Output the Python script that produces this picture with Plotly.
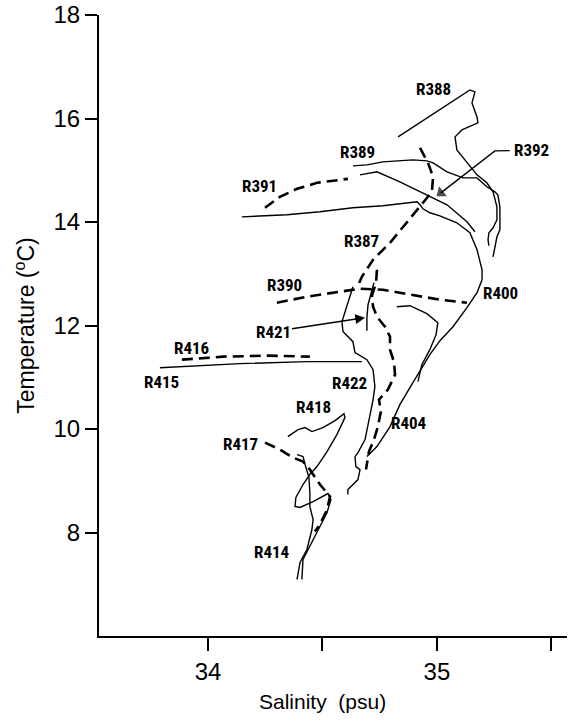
import plotly.graph_objects as go

# ---------------- data (salinity S in psu, temperature T in degC) ----------------
r388_s = [34.830, 35.144, 35.166, 35.153, 35.175, 35.179, 35.109, 35.079, 35.087, 35.131,
          35.175, 35.218, 35.245, 35.262, 35.262, 35.245, 35.227, 35.223, 35.227]
r388_t = [15.645, 16.552, 16.514, 16.301, 16.031, 15.915, 15.780, 15.645, 15.394, 15.143,
          14.911, 14.757, 14.583, 14.293, 14.042, 13.888, 13.792, 13.656, 13.541]

r389_s = [34.633, 34.694, 34.764, 34.895, 34.956, 34.983, 35.044, 35.114, 35.175, 35.218,
          35.253, 35.266, 35.275, 35.275, 35.262, 35.245]
r389_t = [15.085, 15.104, 15.162, 15.201, 15.181, 15.143, 14.969, 14.853, 14.853, 14.680,
          14.583, 14.525, 14.293, 13.849, 13.714, 13.328]

r392_s = [34.664, 34.738, 34.838, 34.956, 35.044, 35.131, 35.166]
r392_t = [14.911, 14.969, 14.776, 14.525, 14.332, 14.004, 13.811]

r391_s = [34.249, 34.314, 34.389, 34.476, 34.611]
r391_t = [14.274, 14.486, 14.641, 14.757, 14.834]

r400_s = [34.148, 34.345, 34.489, 34.633, 34.764, 34.913, 34.926, 34.939, 34.969, 35.013,
          35.087, 35.144, 35.175, 35.197, 35.197, 35.175, 35.131, 35.070, 35.013, 34.969,
          34.895, 34.838, 34.795, 34.738, 34.694]
r400_t = [14.100, 14.139, 14.197, 14.274, 14.313, 14.390, 14.332, 14.255, 14.178, 14.120,
          13.985, 13.792, 13.463, 13.077, 12.884, 12.633, 12.344, 11.977, 11.707, 11.436,
          10.896, 10.471, 10.046, 9.660, 9.467]

r404_s = [34.825, 34.882, 34.956, 35.004, 34.996, 34.969, 34.934, 34.917]
r404_t = [12.363, 12.382, 12.228, 12.054, 11.822, 11.533, 11.243, 10.915]

r387_s = [34.926, 34.961, 34.983, 34.978, 34.939, 34.869, 34.795, 34.721, 34.672, 34.651]
r387_t = [15.432, 15.143, 14.873, 14.583, 14.371, 13.985, 13.598, 13.270, 12.942, 12.730]

r390_s = [34.301, 34.432, 34.576, 34.664, 34.764, 34.882, 35.013, 35.131]
r390_t = [12.440, 12.556, 12.653, 12.710, 12.691, 12.595, 12.498, 12.440]

r421_s = [34.725, 34.712, 34.699, 34.694, 34.694]
r421_t = [12.826, 12.633, 12.402, 12.151, 11.900]

r422_s = [34.633, 34.607, 34.585, 34.590, 34.633, 34.642, 34.694, 34.721, 34.729, 34.721,
          34.707, 34.686, 34.655, 34.642, 34.646, 34.664, 34.655, 34.633, 34.611, 34.611]
r422_t = [12.749, 12.363, 12.073, 11.880, 11.687, 11.475, 11.340, 11.147, 10.819, 10.568,
          10.239, 9.795, 9.544, 9.467, 9.274, 9.216, 9.023, 8.927, 8.830, 8.734]

r422b_s = [34.738, 34.734, 34.716, 34.721, 34.738, 34.773, 34.795, 34.795, 34.812, 34.817,
           34.786, 34.747, 34.755, 34.742, 34.725, 34.703, 34.690]
r422b_t = [13.077, 12.826, 12.575, 12.363, 12.170, 11.977, 11.784, 11.533, 11.301, 11.050,
           10.761, 10.568, 10.336, 10.046, 9.795, 9.564, 9.216]

r416_s = [33.886, 34.066, 34.258, 34.445]
r416_t = [11.340, 11.398, 11.417, 11.398]

r415_s = [33.790, 34.140, 34.432, 34.672]
r415_t = [11.185, 11.263, 11.301, 11.301]

r418_s = [34.349, 34.393, 34.424, 34.454, 34.502, 34.555, 34.594, 34.598, 34.563, 34.520,
          34.476, 34.445, 34.415, 34.384, 34.380, 34.402, 34.459, 34.524, 34.537, 34.520,
          34.489, 34.445, 34.415, 34.410]
r418_t = [9.853, 9.988, 10.027, 9.950, 10.027, 10.162, 10.297, 10.220, 9.892, 9.564,
          9.274, 9.120, 8.927, 8.676, 8.502, 8.483, 8.598, 8.753, 8.637, 8.386,
          8.116, 7.730, 7.479, 7.093]

r417_s = [34.249, 34.314, 34.371, 34.415, 34.445, 34.489, 34.533, 34.520, 34.489, 34.467]
r417_t = [9.737, 9.602, 9.448, 9.371, 9.216, 8.927, 8.695, 8.444, 8.154, 8.019]

r414_s = [34.389, 34.415, 34.424, 34.441, 34.445, 34.445, 34.459, 34.454, 34.432, 34.402, 34.389]
r414_t = [9.506, 9.467, 9.313, 9.062, 8.772, 8.502, 8.251, 8.058, 7.672, 7.421, 7.093]

# station labels
label_names = ["R388", "R389", "R391", "R392", "R387", "R390", "R400",
               "R416", "R415", "R422", "R418", "R404", "R417", "R414"]
label_s = [34.987, 34.651, 34.223, 35.415, 34.672, 34.336, 35.279,
           33.930, 33.795, 34.616, 34.459, 34.878, 34.144, 34.279]
label_t = [16.571, 15.355, 14.699, 15.394, 13.637, 12.788, 12.633,
           11.571, 10.915, 10.896, 10.432, 10.124, 9.718, 7.614]

# R421 label with its arrow (label centre, arrow head)
r421_label_s, r421_label_t = 34.284, 11.880
r421_head_s, r421_head_t = 34.686, 12.151

# R392 leader: label end -> bend -> arrow head
r392_leader_s = [35.318, 35.253, 35.017]
r392_leader_t = [15.380, 15.375, 14.563]

# axis ticks
x_tickvals = [34, 35]
x_minor_tickvals = [34.5, 35.5]
y_tickvals = [8, 10, 12, 14, 16, 18]
x_title_s = 34.5   # salinity under which the x-axis title is centred

solid = [(r388_s, r388_t), (r389_s, r389_t), (r392_s, r392_t), (r400_s, r400_t),
         (r404_s, r404_t), (r421_s, r421_t), (r422_s, r422_t), (r415_s, r415_t),
         (r418_s, r418_t), (r414_s, r414_t)]
dashed = [(r391_s, r391_t), (r387_s, r387_t), (r390_s, r390_t), (r422b_s, r422b_t),
          (r416_s, r416_t), (r417_s, r417_t)]

fig = go.Figure()
for s, t in solid:
    fig.add_trace(go.Scatter(x=s, y=t, mode="lines", hoverinfo="skip",
                             line=dict(color="black", width=1.4), showlegend=False))
for s, t in dashed:
    fig.add_trace(go.Scatter(x=s, y=t, mode="lines", hoverinfo="skip",
                             line=dict(color="black", width=2.6, dash="11px,6px"),
                             showlegend=False))

# R392 leader with arrow head at its end
fig.add_trace(go.Scatter(x=r392_leader_s, y=r392_leader_t, mode="lines+markers",
                         hoverinfo="skip", showlegend=False,
                         line=dict(color="black", width=1.4),
                         marker=dict(symbol="triangle-up", angleref="previous",
                                     size=[0, 0, 11], color="black",
                                     line=dict(width=0))))

label_font = dict(family="Liberation Sans Narrow, Roboto Condensed, DejaVu Sans Condensed, Liberation Sans, Arial, sans-serif",
                  size=17, color="black")
for name, s, t in zip(label_names, label_s, label_t):
    fig.add_annotation(x=s, y=t, text="<b>" + name + "</b>", showarrow=False,
                       font=label_font, xanchor="center", yanchor="middle")

fig.add_annotation(x=r421_head_s, y=r421_head_t, ax=r421_label_s, ay=r421_label_t,
                   axref="x", ayref="y", xref="x", yref="y",
                   text="<b>R421</b>", font=label_font, showarrow=True,
                   arrowhead=2, arrowsize=1.3, arrowwidth=1.5, arrowcolor="black")

# x-axis title, centred under the 34.5 tick as in the original figure
fig.add_annotation(x=x_title_s, y=-0.105, xref="x", yref="paper",
                   text="Salinity\u00a0 (psu)", showarrow=False,
                   xanchor="center", yanchor="middle",
                   font=dict(family="Liberation Sans, Arial, sans-serif", size=21,
                             color="black"))

tick_font = dict(family="Liberation Sans, Arial, sans-serif", size=24, color="black")

fig.update_layout(
    width=568, height=723, autosize=False,
    margin=dict(l=99, r=1, t=15, b=87),
    paper_bgcolor="white", plot_bgcolor="white",
    showlegend=False,
    xaxis=dict(range=[33.524, 35.568], showgrid=False, zeroline=False,
               showline=True, linecolor="black", linewidth=2,
               ticks="outside", ticklen=13, tickwidth=1.6, tickcolor="black",
               tickvals=x_tickvals, tickfont=tick_font,
               minor=dict(tickvals=x_minor_tickvals, ticks="outside", ticklen=13,
                          tickwidth=1.6, tickcolor="black", showgrid=False)),
    yaxis=dict(range=[6, 18], showgrid=False, zeroline=False,
               showline=True, linecolor="black", linewidth=2,
               ticks="outside", ticklen=12, tickwidth=1.6, tickcolor="black",
               tickvals=y_tickvals, tickfont=tick_font,
               title=dict(text="Temperature (<sup>o</sup>C)",
                          font=dict(family="Liberation Sans, Arial, sans-serif", size=23,
                                    color="black"),
                          standoff=12)),
)

fig.write_html("out.html")
